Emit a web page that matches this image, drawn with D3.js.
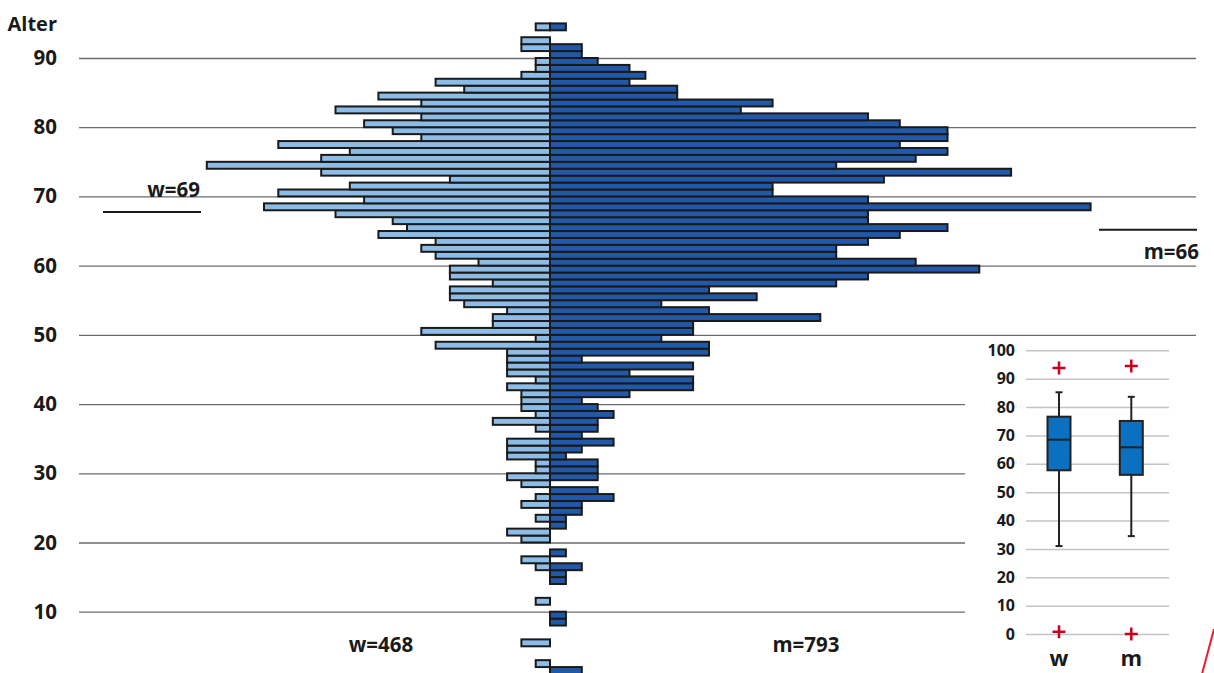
<!DOCTYPE html>
<html>
<head>
<meta charset="utf-8">
<title>Alterspyramide</title>
<script src="https://cdnjs.cloudflare.com/ajax/libs/d3/7.8.5/d3.min.js"></script>
<style>
  body { margin: 0; background: #fff; }
  text { font-family: "Open Sans", "DejaVu Sans", sans-serif; font-weight: 700; fill: #1a1a1a; }
  .grid line { stroke: #6b6b6b; stroke-width: 1.3; }
  .bpgrid line { stroke: #c4c4c4; stroke-width: 1.5; }
  .bar { stroke: #1a1a1a; stroke-width: 2; }
</style>
</head>
<body>
<div id="container"></div>
<script>
// counts per age, index = age (0..94)
const women = [
  0,0,1,0,0,2,0,0,0,0,
  0,1,0,0,0,0,1,2,0,0,
  2,3,0,1,0,2,1,0,2,3,
  1,1,3,3,3,0,1,4,1,2,
  2,2,3,1,3,3,3,3,8,1,
  9,4,4,3,6,7,7,4,7,7,
  5,8,9,8,12,10,11,15,20,13,
  19,14,7,16,24,16,14,19,9,11,
  13,9,15,9,12,6,8,2,1,1,
  0,2,2,0,1
];
const men = [
  0,2,0,0,0,0,0,0,1,1,
  0,0,0,0,1,1,2,0,1,0,
  0,0,1,1,2,2,4,3,0,3,
  3,3,1,2,4,2,3,3,4,3,
  2,5,9,9,5,9,2,10,10,7,
  9,9,17,10,7,13,10,18,20,27,
  23,18,18,20,22,25,20,20,34,20,
  14,14,21,29,18,23,25,22,25,25,
  22,20,12,14,8,8,5,6,5,3,
  2,2,0,0,1
];
const ageTicks = [10, 20, 30, 40, 50, 60, 70, 80, 90];
const totals = {w: 468, m: 793};
const medians = {w: 69, m: 66};

// box plot
const boxCats = ['w', 'm'];
const boxMin = [31, 34.5];
const boxQ1 = [57.7, 56.1];
const boxMed = [68.5, 65.8];
const boxQ3 = [76.6, 75.1];
const boxMax = [85.2, 83.6];
const boxOutliers = [[93.8, 0.8], [94.5, 0]];
const boxTicks = d3.range(0, 101, 10);

const w = 1214, h = 673;
const svg = d3.select('#container').append('svg')
  .attr('width', w).attr('height', h);

const y = d3.scaleLinear().domain([10, 90]).range([611.7, 58]);
const xL = d3.scaleLinear().domain([0, 24]).range([550, 550 - 24 * 14.3]);
const xR = d3.scaleLinear().domain([0, 34]).range([550, 550 + 34 * 15.9]);

// grid + age labels
const grid = svg.append('g').attr('class', 'grid')
  .attr('transform', 'translate(79,0)')
  .call(d3.axisLeft(y).tickValues(ageTicks).tickSize(-(1196 - 79)).tickPadding(22));
grid.select('.domain').remove();
grid.selectAll('text').style('font-size', '20.5px').attr('fill', '#1a1a1a');

svg.append('text').attr('x', 57).attr('y', 31)
  .attr('text-anchor', 'end').style('font-size', '20px').text('Alter');

// bars
const ages = d3.range(women.length);
svg.append('g').selectAll('rect')
  .data(ages.filter(a => women[a] > 0))
  .join('rect')
  .attr('class', 'bar')
  .attr('x', a => xL(women[a]))
  .attr('y', a => y(a + 1))
  .attr('width', a => xL(0) - xL(women[a]))
  .attr('height', a => y(a) - y(a + 1))
  .attr('fill', '#8dbde7');

svg.append('g').selectAll('rect')
  .data(ages.filter(a => men[a] > 0))
  .join('rect')
  .attr('class', 'bar')
  .attr('x', xR(0))
  .attr('y', a => y(a + 1))
  .attr('width', a => xR(men[a]) - xR(0))
  .attr('height', a => y(a) - y(a + 1))
  .attr('fill', '#2159a8');

// median annotations
svg.append('text').attr('x', 200).attr('y', 197)
  .attr('text-anchor', 'end').style('font-size', '20.5px').text('w=' + medians.w);
svg.append('line').attr('x1', 103).attr('x2', 201)
  .attr('y1', y(medians.w - 1.25)).attr('y2', y(medians.w - 1.25))
  .attr('stroke', '#1a1a1a').attr('stroke-width', 2);
svg.append('text').attr('x', 1199).attr('y', 259)
  .attr('text-anchor', 'end').style('font-size', '20.5px').text('m=' + medians.m);
svg.append('line').attr('x1', 1099).attr('x2', 1197)
  .attr('y1', y(medians.m - 0.8)).attr('y2', y(medians.m - 0.8))
  .attr('stroke', '#1a1a1a').attr('stroke-width', 2);

// totals
svg.append('text').attr('x', 381).attr('y', 652)
  .attr('text-anchor', 'middle').style('font-size', '20.5px').text('w=' + totals.w);
svg.append('text').attr('x', 806).attr('y', 652)
  .attr('text-anchor', 'middle').style('font-size', '20.5px').text('m=' + totals.m);

// ---- box plot inset
svg.append('rect').attr('x', 965).attr('y', 338).attr('width', w - 965).attr('height', h - 338)
  .attr('fill', '#fff');

const by = d3.scaleLinear().domain([0, 100]).range([634, 350.3]);
const bx = d3.scalePoint().domain(boxCats).range([1059, 1131.3]);

const bg = svg.append('g').attr('class', 'bpgrid')
  .attr('transform', 'translate(1026,0)')
  .call(d3.axisLeft(by).tickValues(boxTicks).tickSize(-(1169 - 1026)).tickPadding(11));
bg.select('.domain').remove();
bg.selectAll('text').style('font-size', '16px').attr('fill', '#2a2a2a');

const bw = 23, cap = 7;
const box = svg.append('g').selectAll('g')
  .data(boxCats.map((c, i) => i))
  .join('g');

box.append('line')
  .attr('x1', i => bx(boxCats[i])).attr('x2', i => bx(boxCats[i]))
  .attr('y1', i => by(boxMin[i])).attr('y2', i => by(boxMax[i]))
  .attr('stroke', '#222').attr('stroke-width', 2);
box.append('line')
  .attr('x1', i => bx(boxCats[i]) - cap / 2).attr('x2', i => bx(boxCats[i]) + cap / 2)
  .attr('y1', i => by(boxMax[i])).attr('y2', i => by(boxMax[i]))
  .attr('stroke', '#222').attr('stroke-width', 2);
box.append('line')
  .attr('x1', i => bx(boxCats[i]) - cap / 2).attr('x2', i => bx(boxCats[i]) + cap / 2)
  .attr('y1', i => by(boxMin[i])).attr('y2', i => by(boxMin[i]))
  .attr('stroke', '#222').attr('stroke-width', 2);
box.append('rect')
  .attr('x', i => bx(boxCats[i]) - bw / 2).attr('width', bw)
  .attr('y', i => by(boxQ3[i])).attr('height', i => by(boxQ1[i]) - by(boxQ3[i]))
  .attr('fill', '#0a70bf').attr('stroke', '#222').attr('stroke-width', 2);
box.append('line')
  .attr('x1', i => bx(boxCats[i]) - bw / 2).attr('x2', i => bx(boxCats[i]) + bw / 2)
  .attr('y1', i => by(boxMed[i])).attr('y2', i => by(boxMed[i]))
  .attr('stroke', '#222').attr('stroke-width', 2);

// outliers as red crosses
const crossPath = (cx, cy, s) => `M${cx - s},${cy}H${cx + s}M${cx},${cy - s}V${cy + s}`;
box.each(function(i) {
  d3.select(this).selectAll('path')
    .data(boxOutliers[i])
    .join('path')
    .attr('d', v => crossPath(bx(boxCats[i]), by(v), 6.5))
    .attr('stroke', '#c8001e').attr('stroke-width', 2.5).attr('fill', 'none');
});

box.append('text')
  .attr('x', i => bx(boxCats[i])).attr('y', 666)
  .attr('text-anchor', 'middle').style('font-size', '22px')
  .text(i => boxCats[i]);

// stray red stroke at the bottom right corner
svg.append('line').attr('x1', 1214).attr('y1', 629).attr('x2', 1202).attr('y2', 674)
  .attr('stroke', '#e8202a').attr('stroke-width', 2);
</script>
</body>
</html>
